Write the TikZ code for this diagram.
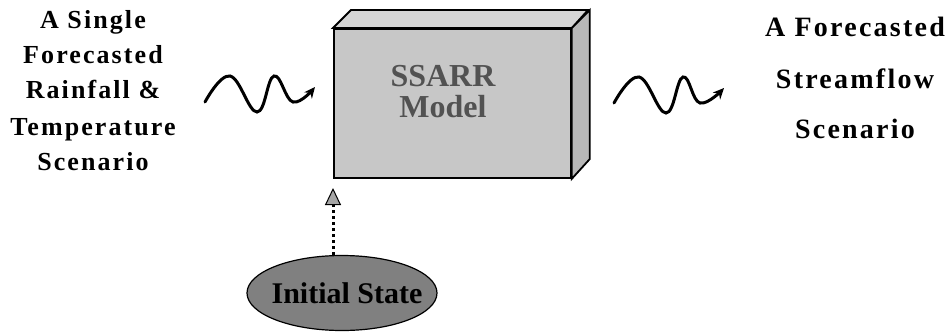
\documentclass[tikz,border=0pt]{standalone}
\usepackage{fontspec}
\setmainfont{Liberation Serif}
\newfontfamily\trackfont[LetterSpace=8]{Liberation Serif}
\usetikzlibrary{arrows.meta,shapes.geometric}
\definecolor{frontgray}{gray}{0.78}
\definecolor{topgray}{gray}{0.84}
\definecolor{sidegray}{gray}{0.72}
\definecolor{ellgray}{gray}{0.50}
\begin{document}
\begin{tikzpicture}[x=1pt,y=-1pt,
  lefttxt/.style={anchor=base,inner sep=0,font=\trackfont\bfseries\fontsize{26}{26}\selectfont},
  righttxt/.style={anchor=base,inner sep=0,font=\trackfont\bfseries\fontsize{28}{28}\selectfont},
  modeltxt/.style={anchor=base,inner sep=0,text=black!68,font=\bfseries\fontsize{32}{32}\selectfont},
  wave/.style={line width=3pt,line cap=round,-{Stealth[length=11pt,width=10pt]}},
  boxline/.style={draw=black,line width=1.8pt,line join=miter}]
\fill[white] (0,0) rectangle (950,335);
\useasboundingbox (0,0) rectangle (950,335);
% left text
\node[lefttxt] (l1) at (93,28) {A Single};
\node[lefttxt] (l2) at (93,63) {Forecasted};
\node[lefttxt] (l3) at (93,98) {Rainfall \&};
\node[lefttxt] (l4) at (93,135) {Temperature};
\node[lefttxt] (l5) at (93,170) {Scenario};
% right text
\node[righttxt] (r1) at (855,36) {A Forecasted};
\node[righttxt] (r2) at (855,88) {Streamflow};
\node[righttxt] (r3) at (855,138) {Scenario};
% box
\node[boxline,fill=frontgray,minimum width=237pt,minimum height=149pt,anchor=north west,inner sep=0] (model) at (333,28) {};
\draw[boxline,fill=topgray] (model.north west) -- ++(18,-18) -- ++(237,0) -- (model.north east) -- cycle;
\draw[boxline,fill=sidegray] (model.north east) -- ++(18,-18) -- ++(0,149) -- (model.south east) -- cycle;
\node[modeltxt] (m1) at (443,86) {SSARR};
\node[modeltxt] (m2) at (443,117) {Model};
% ellipse
\node[ellipse,draw=black,line width=1.2pt,fill=ellgray,minimum width=190pt,minimum height=75pt,inner sep=0] (init) at (342,293) {};
\node[anchor=base,inner sep=0,font=\bfseries\fontsize{30}{30}\selectfont] (initlbl) at (347,303) {Initial State};
% dotted arrow
\coordinate (dstart) at (333,255);
\coordinate (dend) at (333,188);
\draw[line width=3pt,dash pattern=on 3pt off 3pt,-{Triangle[length=17pt,width=16pt,fill=gray!70,line width=1pt]}] (dstart) -- (dend);
% wavy arrows
\coordinate (wa1) at (205,102);
\coordinate (wa2) at (315,87);
\coordinate (wb1) at (614,103);
\coordinate (wb2) at (724,88);
\draw[wave] plot[smooth,tension=0.7] coordinates {(wa1) (230,76) (257,112) (274,76) (293,102) (wa2)};
\draw[wave] plot[smooth,tension=0.7] coordinates {(wb1) (639,77) (666,113) (683,77) (700,103) (wb2)};
\end{tikzpicture}
\end{document}
